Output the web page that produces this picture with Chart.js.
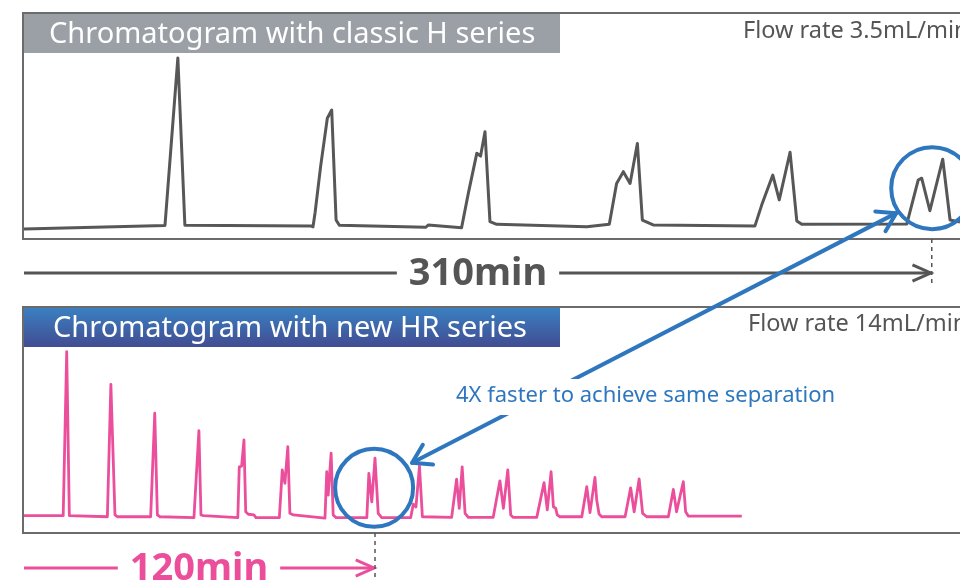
<!DOCTYPE html>
<html>
<head>
<meta charset="utf-8">
<script src="https://cdn.jsdelivr.net/npm/chart.js@4.4.1/dist/chart.umd.min.js"></script>
<style>
  html, body { margin: 0; padding: 0; background: #fff; }
  #wrap { width: 960px; height: 581px; overflow: hidden; }
</style>
</head>
<body>
<div id="wrap"><canvas id="chromChart" width="960" height="581"></canvas></div>
<script>
// retention time (min) / detector signal (% of panel height)
const classicTime = [0, 48.2, 52.6, 55.0, 98.1, 98.8, 99.5, 101.4, 103.7, 105.2, 106.7, 107.8, 137.4, 138.2,
  149.6, 151.9, 154.8, 156.1, 157.6, 159.3, 161.6, 192.4, 200.1, 202.6, 204.9, 207.2, 209.7, 211.4, 215.1,
  249.9, 252.2, 256.0, 258.2, 261.9, 264.2, 265.9, 301.8, 305.7, 306.9, 309.7, 314.1, 316.6, 320];
const classicSignal = [4.4, 6.0, 80.1, 6.1, 5.8, 5.4, 11.5, 32.0, 53.4, 57.1, 8.4, 6.1, 5.2, 6.2,
  5.0, 20.2, 37.9, 36.7, 47.5, 7.7, 6.5, 5.4, 6.5, 24.6, 29.8, 24.6, 42.3, 8.4, 6.2,
  5.8, 15.0, 28.3, 17.3, 38.4, 8.0, 6.5, 6.6, 26.1, 26.9, 12.5, 35.3, 8.4, 7.5];

const hrTime = [0, 13.4, 14.6, 15.5, 28.5, 29.7, 31.1, 31.9, 43.3, 44.7, 45.6, 46.5, 58.1, 59.8, 60.5, 61.3,
  73.1, 73.6, 74.4, 75.2, 75.8, 76.7, 78.6, 79.3, 87.3, 88.3, 89.2, 90.2, 90.9, 92.1,
  102.9, 103.5, 104.0, 105.0, 105.7, 106.7, 117.2, 117.9, 118.9, 120.0, 121.1, 122.3,
  132.2, 133.1, 134.0, 135.2, 136.2, 146.2, 147.9, 148.8, 149.8, 150.8, 151.9,
  160.4, 162.7, 163.9, 165.4, 166.4, 167.3, 175.3, 177.8, 178.9, 180.2, 181.0, 181.8, 182.3, 183.2,
  190.7, 192.4, 193.5, 195.2, 195.8, 196.6, 197.5, 205.5, 207.4, 208.6, 210.3, 211.5, 212.9,
  220.3, 222.0, 223.1, 225.4, 226.2, 227.1, 245.4];
const hrSignal = [7.7, 7.7, 80.2, 7.7, 7.2, 65.8, 8.0, 7.2, 7.2, 53.0, 8.0, 7.2, 6.8, 45.3, 8.0, 7.7,
  6.8, 29.3, 29.6, 41.2, 9.4, 8.3, 8.0, 6.8, 6.8, 27.9, 22.0, 38.2, 8.7, 8.0,
  6.6, 27.1, 16.8, 35.3, 8.0, 6.8, 6.8, 26.4, 13.8, 33.1, 8.7, 6.8,
  6.8, 12.8, 11.5, 29.6, 7.2, 6.9, 23.8, 10.9, 29.3, 8.7, 6.9,
  6.9, 23.1, 10.9, 27.9, 8.0, 6.9, 6.9, 22.3, 10.2, 27.1, 11.6, 10.9, 8.0, 7.2,
  7.2, 20.5, 9.0, 24.6, 14.6, 8.4, 7.2, 7.2, 20.0, 9.4, 23.9, 8.7, 7.2,
  7.2, 19.3, 9.4, 22.7, 9.4, 7.5, 7.5];

const panelTitles = ['Chromatogram with classic H series', 'Chromatogram with new HR series'];
const flowRates = ['Flow rate 3.5mL/min', 'Flow rate 14mL/min'];
const runTimes = [310, 120];
const runLabels = ['310min', '120min'];
const noteText = '4X faster to achieve same separation';

const GRAY = '#555555';
const PINK = '#eb4f9c';
const BLUE = '#2e77bf';
const FONT = '"Noto Sans", "Open Sans", sans-serif';

// chevron style arrow head
function chevron(ctx, x, y, angle, len, spread) {
  ctx.beginPath();
  ctx.moveTo(x + len * Math.cos(angle + spread), y + len * Math.sin(angle + spread));
  ctx.lineTo(x, y);
  ctx.lineTo(x + len * Math.cos(angle - spread), y + len * Math.sin(angle - spread));
  ctx.stroke();
}

// run time arrow: line, bold label, line with arrow
function runArrow(ctx, x0, x1, y, label, color, cx) {
  ctx.save();
  ctx.font = 'bold 38px ' + FONT;
  const w = ctx.measureText(label).width;
  ctx.strokeStyle = color;
  ctx.fillStyle = color;
  ctx.lineWidth = 3;
  ctx.lineCap = 'butt';
  ctx.beginPath();
  ctx.moveTo(x0, y); ctx.lineTo(cx - w / 2 - 12, y);
  ctx.moveTo(cx + w / 2 + 12, y); ctx.lineTo(x1, y);
  ctx.stroke();
  ctx.lineJoin = 'miter';
  chevron(ctx, x1, y, Math.PI, 20, 0.42);
  ctx.textAlign = 'center';
  ctx.textBaseline = 'middle';
  ctx.fillText(label, cx, y + 1);
  ctx.restore();
}

const decorPlugin = {
  id: 'decor',
  beforeDatasetsDraw(chart) {
    const { ctx, chartArea, scales } = chart;
    const left = chartArea.left - 1;
    const right = chart.width + 4;
    [scales.yTop, scales.yBot].forEach((s, i) => {
      ctx.save();
      ctx.strokeStyle = '#6b6b6b';
      ctx.lineWidth = 2;
      ctx.beginPath();
      ctx.moveTo(right, s.top);
      ctx.lineTo(left, s.top);
      ctx.lineTo(left, s.bottom);
      ctx.lineTo(right, s.bottom);
      ctx.stroke();

      const bx = left + 1, by = s.top + 1, bw = 536, bh = 39;
      if (i === 0) {
        ctx.fillStyle = '#9ba0a7';
      } else {
        const g = ctx.createLinearGradient(0, by, 0, by + bh);
        g.addColorStop(0, '#3a80c1');
        g.addColorStop(1, '#424c92');
        ctx.fillStyle = g;
      }
      ctx.fillRect(bx, by, bw, bh);

      ctx.fillStyle = '#ffffff';
      ctx.font = '29px ' + FONT;
      ctx.textBaseline = 'middle';
      ctx.fillText(panelTitles[i], bx + (i === 0 ? 25 : 29), by + bh / 2 + 1);

      ctx.fillStyle = GRAY;
      ctx.font = '23.5px ' + FONT;
      ctx.fillText(flowRates[i], i === 0 ? 743 : 748, s.top + (i === 0 ? 18 : 17));
      ctx.restore();
    });
  },
  afterDatasetsDraw(chart) {
    const { ctx, chartArea, scales } = chart;
    const xs = scales.x, yT = scales.yTop, yB = scales.yBot;

    // run time arrows
    const xEndTop = xs.getPixelForValue(runTimes[0]);
    const xEndBot = xs.getPixelForValue(runTimes[1]);
    const yMidGap = (yT.bottom + yB.top) / 2;
    runArrow(ctx, chartArea.left, xEndTop, yMidGap, runLabels[0], GRAY, 478);
    runArrow(ctx, chartArea.left, xEndBot - 1, chart.height - 13, runLabels[1], PINK, 199);

    // dashed end markers
    ctx.save();
    ctx.strokeStyle = GRAY;
    ctx.lineWidth = 1.5;
    ctx.setLineDash([4, 4]);
    ctx.beginPath();
    ctx.moveTo(xEndTop + 1, yT.bottom); ctx.lineTo(xEndTop + 1, yMidGap + 12);
    ctx.moveTo(xEndBot, yB.bottom); ctx.lineTo(xEndBot, chart.height);
    ctx.stroke();
    ctx.restore();

    // circles round the matching peak pairs
    const cT = { x: xs.getPixelForValue(runTimes[0] + 0.5), y: yT.getPixelForValue(22.5), r: 41 };
    const cB = { x: xs.getPixelForValue(runTimes[1] - 0.3), y: yB.getPixelForValue(20), r: 39 };
    ctx.save();
    ctx.strokeStyle = BLUE;
    ctx.lineWidth = 4;
    [cT, cB].forEach(c => {
      ctx.beginPath();
      ctx.arc(c.x, c.y, c.r, 0, Math.PI * 2);
      ctx.stroke();
    });

    // double headed arrow between them
    const tipB = { x: cB.x + 38, y: cB.y - 25 };
    const tipT = { x: cT.x - 36, y: cT.y + 25 };
    const ang = Math.atan2(tipT.y - tipB.y, tipT.x - tipB.x);
    ctx.lineCap = 'round';
    ctx.lineJoin = 'round';
    ctx.beginPath();
    ctx.moveTo(tipB.x, tipB.y);
    ctx.lineTo(tipT.x, tipT.y);
    ctx.stroke();
    chevron(ctx, tipT.x, tipT.y, ang + Math.PI, 21, 0.56);
    chevron(ctx, tipB.x, tipB.y, ang, 21, 0.56);

    // note over the arrow
    ctx.fillStyle = '#ffffff';
    ctx.fillRect(446, 379, 402, 36);
    ctx.fillStyle = BLUE;
    ctx.font = '22px ' + FONT;
    ctx.textBaseline = 'middle';
    ctx.fillText(noteText, 456, 396);
    ctx.restore();
  }
};

new Chart(document.getElementById('chromChart'), {
  type: 'line',
  data: {
    datasets: [
      {
        label: 'H series',
        data: classicTime.map((t, i) => ({ x: t, y: classicSignal[i] })),
        yAxisID: 'yTop',
        borderColor: '#575757',
        borderWidth: 3,
        borderJoinStyle: 'round',
        pointRadius: 0,
        tension: 0
      },
      {
        label: 'HR series',
        data: hrTime.map((t, i) => ({ x: t, y: hrSignal[i] })),
        yAxisID: 'yBot',
        borderColor: PINK,
        borderWidth: 2.8,
        borderJoinStyle: 'round',
        pointRadius: 0,
        tension: 0
      }
    ]
  },
  options: {
    responsive: false,
    animation: false,
    layout: { padding: { left: 24, right: 0, top: 13, bottom: 48 } },
    plugins: { legend: { display: false }, tooltip: { enabled: false } },
    scales: {
      x: { type: 'linear', min: 0, max: 320, display: false },
      // stacked panels, listed bottom first
      yBot: { type: 'linear', position: 'left', stack: 'panels', stackWeight: 226, min: 0, max: 100, display: false },
      yGap: { type: 'linear', position: 'left', stack: 'panels', stackWeight: 68, min: 0, max: 1, display: false },
      yTop: { type: 'linear', position: 'left', stack: 'panels', stackWeight: 226, min: 0, max: 100, display: false }
    }
  },
  plugins: [decorPlugin]
});
</script>
</body>
</html>
